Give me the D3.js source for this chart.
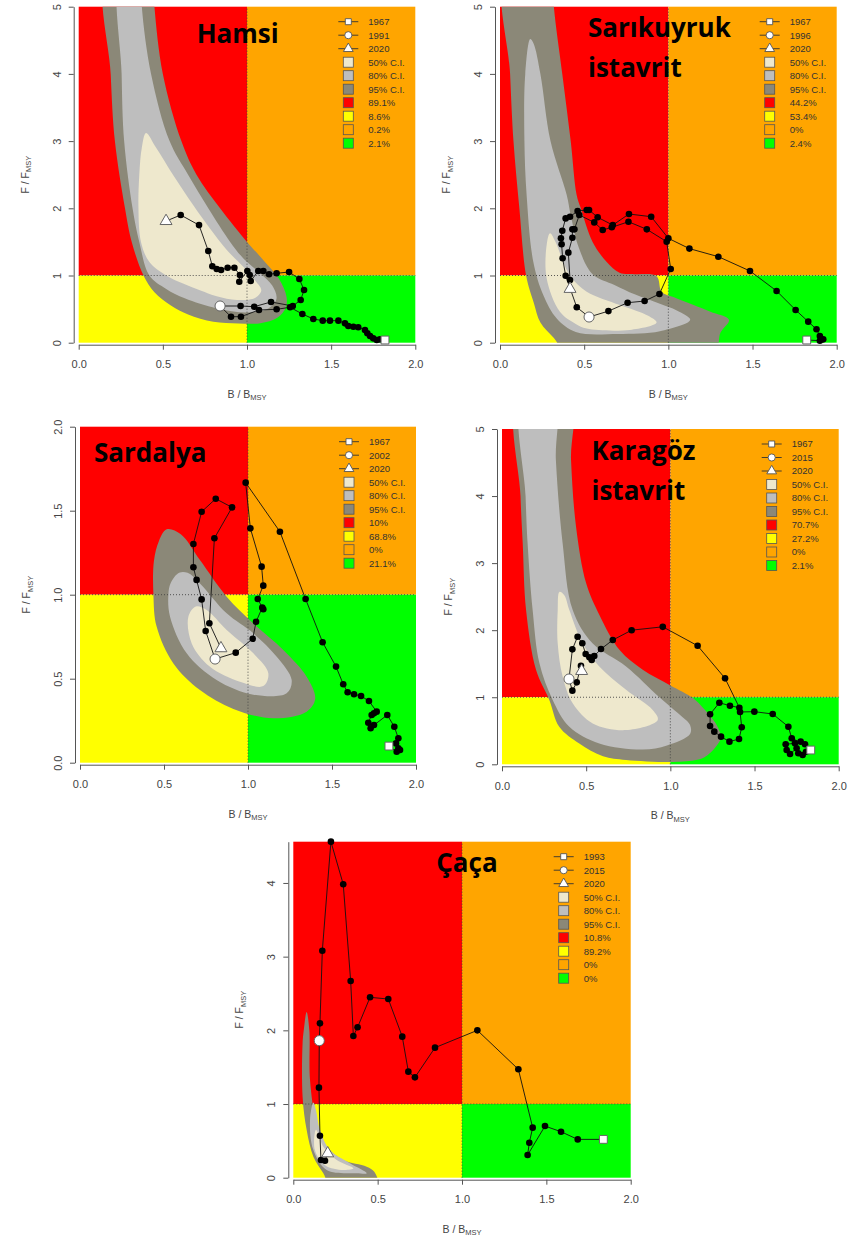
<!DOCTYPE html>
<meta charset="utf-8">
<style>
body { margin:0; background:#fff; }
svg { font-family: 'Liberation Sans', Arial, sans-serif; }
.title { font-family: 'Open Sans', sans-serif; font-weight:700; font-size:26px; fill:#000; }
.leg { font-size:9.5px; fill:#333; }
.axt { font-size:10.5px; fill:#444; }
</style>
<body>
<script src="https://d3js.org/d3.v7.min.js"></script>
<script>

// ---- shared legend / axis values ----
var ciLabels = ["50% C.I.", "80% C.I.", "95% C.I."];
var xTicks = [0, 0.5, 1, 1.5, 2];

// ---- Hamsi ----
var hamsiYears = ["1967", "1991", "2020"];
var hamsiPct = ["89.1%", "8.6%", "0.2%", "2.1%"];
var hamsiPathA = [[1.82,0.04],[1.79,0.05],[1.771,0.04],[1.75,0.065],[1.731,0.10],[1.715,0.14],[1.701,0.189],[1.661,0.229],[1.632,0.238],[1.602,0.248],[1.582,0.288],[1.543,0.328],[1.493,0.328],[1.45,0.328],[1.394,0.353],[1.329,0.427],[1.256,0.527],[1.176,0.497],[1.071,0.487],[0.964,0.387],[0.905,0.387],[0.84,0.546]];
var hamsiPathB = [[0.962,0.546],[1.043,0.536],[1.143,0.606],[1.272,0.546],[1.319,0.635],[1.339,0.784],[1.311,0.948],[1.25,1.052],[1.176,1.033],[1.131,1.018],[1.097,1.067],[1.067,1.067],[1.022,0.918],[1.016,1.007],[1.002,1.067],[0.954,0.908],[0.958,1.007],[0.925,1.116],[0.885,1.116],[0.846,1.082],[0.82,1.097],[0.794,1.137],[0.77,1.365],[0.715,1.75],[0.606,1.90],[0.519,1.81]];
var hamsiCI95 = [[0.17,5.5],[0.19,4.0],[0.215,3.0],[0.275,2.0],[0.315,1.5],[0.385,1.0],[0.45,0.75],[0.55,0.55],[0.65,0.42],[0.80,0.31],[0.95,0.285],[1.08,0.29],[1.18,0.37],[1.23,0.52],[1.235,0.68],[1.19,0.95],[1.10,1.22],[1.0,1.5],[0.84,2.0],[0.70,2.5],[0.61,3.0],[0.50,4.0],[0.45,5.0],[0.44,5.5]];
var hamsiCI80 = [[0.25,5.5],[0.255,4.0],[0.27,3.0],[0.32,2.0],[0.36,1.5],[0.42,1.0],[0.52,0.80],[0.63,0.66],[0.82,0.51],[1.0,0.45],[1.12,0.50],[1.175,0.65],[1.15,0.85],[1.08,1.03],[0.98,1.25],[0.90,1.5],[0.77,2.0],[0.65,2.5],[0.54,3.0],[0.43,4.0],[0.375,5.0],[0.37,5.5]];
var hamsiCI50 = [[0.40,3.12],[0.375,2.9],[0.36,2.5],[0.355,2.0],[0.37,1.5],[0.42,1.2],[0.52,1.0],[0.62,0.88],[0.72,0.78],[0.82,0.69],[0.94,0.635],[1.05,0.67],[1.085,0.78],[1.04,0.95],[0.99,1.10],[0.88,1.38],[0.78,1.7],[0.68,2.05],[0.56,2.5],[0.46,2.9]];

// ---- Sarikuyruk istavrit ----
var sarikYears = ["1967", "1996", "2020"];
var sarikPct = ["44.2%", "53.4%", "0%", "2.4%"];
var sarikPathA = [[1.822,0.04],[1.90,0.03],[1.92,0.05],[1.90,0.10],[1.88,0.20],[1.831,0.313],[1.756,0.487],[1.643,0.77],[1.485,1.067],[1.297,1.28],[1.125,1.40],[1.0,1.553],[0.898,1.875],[0.766,1.915],[0.67,1.75],[0.58,1.866],[0.529,1.975],[0.515,1.975],[0.461,1.96],[0.416,1.875],[0.39,1.85],[0.37,1.667],[0.362,1.553],[0.366,1.464],[0.372,1.256],[0.39,0.997],[0.456,0.527],[0.529,0.382]];
var sarikPathB = [[0.644,0.47],[0.758,0.595],[0.859,0.62],[0.947,0.725],[1.014,1.097],[0.99,1.503],[0.872,1.687],[0.763,1.80],[0.664,1.717],[0.61,1.677],[0.56,1.79],[0.471,1.90],[0.442,1.687],[0.43,1.687],[0.43,1.562],[0.406,1.34],[0.416,0.933],[0.416,0.80]];
var sarikCI95 = [[0.036,5.5],[0.06,4.0],[0.08,3.0],[0.115,2.0],[0.155,1.0],[0.20,0.6],[0.24,0.3],[0.32,0.07],[0.40,-0.15],[1.27,-0.15],[1.31,0.15],[1.36,0.34],[1.25,0.46],[1.15,0.56],[1.03,0.68],[0.96,0.76],[0.93,0.99],[0.80,1.02],[0.71,1.04],[0.634,1.2],[0.55,1.5],[0.48,2.0],[0.455,2.2],[0.42,3.0],[0.37,4.0],[0.32,5.0],[0.31,5.5]];
var sarikCI80 = [[0.18,4.52],[0.15,4.0],[0.145,3.0],[0.158,2.2],[0.198,1.2],[0.257,0.71],[0.337,0.36],[0.45,0.16],[0.7,0.13],[0.95,0.17],[1.13,0.34],[1.05,0.48],[0.95,0.58],[0.80,0.72],[0.68,0.86],[0.55,1.02],[0.47,1.4],[0.42,1.9],[0.396,2.2],[0.30,3.0],[0.24,4.0],[0.20,4.45]];
var sarikCI50 = [[0.297,1.63],[0.277,1.45],[0.277,0.96],[0.356,0.46],[0.45,0.28],[0.515,0.21],[0.772,0.19],[0.93,0.30],[0.88,0.40],[0.713,0.56],[0.515,0.76],[0.42,0.98],[0.376,1.2],[0.33,1.50]];

// ---- Sardalya ----
var sardYears = ["1967", "2002", "2020"];
var sardPct = ["10%", "68.8%", "0%", "21.1%"];
var sardPathA = [[1.839,0.099],[1.885,0.065],[1.905,0.076],[1.895,0.086],[1.881,0.115],[1.895,0.145],[1.871,0.214],[1.829,0.284],[1.75,0.224],[1.73,0.205],[1.716,0.238],[1.736,0.284],[1.75,0.294],[1.766,0.304],[1.72,0.367],[1.673,0.397],[1.631,0.407],[1.593,0.419],[1.567,0.467],[1.524,0.572],[1.444,0.717],[1.343,0.974],[1.19,1.375],[0.986,1.667],[1.014,1.395],[1.081,1.167],[1.091,1.054],[1.058,0.974],[1.091,0.913],[1.085,0.923],[1.048,0.839],[1.028,0.738],[0.927,0.655],[0.804,0.617]];
var sardPathB = [[0.748,0.784],[0.724,0.972],[0.694,1.088],[0.675,1.163],[0.675,1.302],[0.724,1.494],[0.808,1.571],[0.905,1.52],[0.80,1.336],[0.77,0.83],[0.839,0.681]];
var sardCI95 = [[0.516,1.389],[0.47,1.32],[0.44,1.2],[0.437,1.0],[0.456,0.81],[0.556,0.591],[0.714,0.433],[0.913,0.32],[1.15,0.264],[1.349,0.304],[1.40,0.38],[1.349,0.512],[1.21,0.671],[1.032,0.829],[0.873,0.988],[0.714,1.206],[0.60,1.36]];
var sardCI80 = [[0.59,1.13],[0.54,1.07],[0.526,1.0],[0.536,0.869],[0.635,0.651],[0.813,0.492],[1.032,0.405],[1.23,0.413],[1.26,0.492],[1.171,0.631],[1.032,0.77],[0.873,0.889],[0.714,1.067],[0.64,1.13]];
var sardCI50 = [[0.69,0.93],[0.645,0.869],[0.665,0.71],[0.774,0.571],[0.952,0.482],[1.091,0.456],[1.121,0.532],[1.032,0.651],[0.873,0.79],[0.754,0.909]];

// ---- Karagoz istavrit ----
var karaYears = ["1967", "2015", "2020"];
var karaPct = ["70.7%", "27.2%", "0%", "2.1%"];
var karaPathA = [[1.834,0.213],[1.806,0.188],[1.786,0.139],[1.76,0.164],[1.75,0.239],[1.711,0.154],[1.691,0.213],[1.685,0.298],[1.74,0.313],[1.774,0.338],[1.80,0.298],[1.721,0.388],[1.701,0.561],[1.608,0.75],[1.499,0.785],[1.414,0.78],[1.424,0.552],[1.408,0.377],[1.351,0.338],[1.301,0.412],[1.261,0.487],[1.236,0.571],[1.236,0.746],[1.291,0.918],[1.354,0.874],[1.41,0.844],[1.325,1.282],[1.162,1.768],[0.955,2.05],[0.77,2.0],[0.658,1.853],[0.588,1.719],[0.548,1.615],[0.533,1.555],[0.519,1.595],[0.497,1.645],[0.477,1.804],[0.449,1.903],[0.418,1.714],[0.398,1.272]];
var karaPathB = [[0.418,1.098],[0.444,1.222],[0.469,1.47],[0.473,1.391]];
var karaCI95 = [[0.099,5.5],[0.11,4.0],[0.123,3.3],[0.143,2.3],[0.202,1.41],[0.281,0.96],[0.34,0.56],[0.459,0.31],[0.60,0.12],[0.737,0.065],[1.077,0.04],[1.20,0.10],[1.27,0.26],[1.30,0.40],[1.275,0.586],[1.196,0.835],[1.136,0.984],[0.998,1.18],[0.836,1.41],[0.70,1.70],[0.58,2.22],[0.50,2.7],[0.44,3.54],[0.41,4.54],[0.404,5.5]];
var karaCI80 = [[0.123,5.5],[0.14,4.0],[0.152,3.3],[0.182,2.3],[0.222,1.51],[0.301,0.96],[0.40,0.56],[0.578,0.31],[0.836,0.22],[0.98,0.28],[1.117,0.45],[1.117,0.586],[1.073,0.70],[0.935,1.0],[0.737,1.46],[0.539,1.80],[0.42,2.30],[0.36,3.3],[0.32,4.54],[0.311,5.5]];
var karaCI50 = [[0.341,2.57],[0.331,2.30],[0.331,1.80],[0.36,1.31],[0.42,0.91],[0.539,0.61],[0.737,0.51],[0.925,0.66],[0.895,0.81],[0.737,1.11],[0.578,1.46],[0.479,1.80],[0.40,2.30],[0.37,2.52]];

// ---- Caca ----
var cacaYears = ["1993", "2015", "2020"];
var cacaPct = ["10.8%", "89.2%", "0%", "0%"];
var cacaPathA = [[1.838,0.52],[1.686,0.52],[1.587,0.624],[1.492,0.701],[1.389,0.308],[1.399,0.475],[1.419,0.679],[1.334,1.471],[1.091,2.0],[0.84,1.765],[0.721,1.362],[0.682,1.439],[0.646,1.914],[0.563,2.425],[0.455,2.448],[0.381,2.041],[0.356,1.923],[0.34,2.67],[0.296,3.982],[0.223,4.561],[0.172,3.081],[0.158,2.095],[0.154,1.86]];
var cacaPathB = [[0.152,1.222],[0.158,0.57],[0.164,0.24],[0.188,0.231],[0.204,0.33]];
var cacaCI95 = [[0.079,2.25],[0.062,2.0],[0.055,1.82],[0.055,1.10],[0.079,0.65],[0.119,0.285],[0.178,0.06],[0.22,-0.1],[0.50,-0.1],[0.48,0.08],[0.435,0.15],[0.296,0.24],[0.198,0.42],[0.138,0.74],[0.099,1.33],[0.095,2.0]];
var cacaCI80 = [[0.119,1.02],[0.099,0.78],[0.119,0.375],[0.198,0.104],[0.375,0.06],[0.435,0.06],[0.336,0.195],[0.217,0.375],[0.158,0.65],[0.134,0.92]];
var cacaCI50 = [[0.134,0.65],[0.128,0.375],[0.188,0.17],[0.296,0.104],[0.356,0.127],[0.257,0.24],[0.178,0.42],[0.148,0.60]];

// ---- colours ----
var kobeCols = ["#ff0000", "#ffff00", "#ffa500", "#00ff00"];   // red, yellow, orange, green
var ciCols = ["#eee8cd", "#bebebe", "#8b8878"];

// ---- layout (pixels) ----
var panels = [
  {name:["Hamsi"], tx:118, ty:36, left:78.7, top:6.7, w:336.6, h:336, ymax:5, yticks:[0,1,2,3,4,5], yfmt:"d",
   years:hamsiYears, pct:hamsiPct, a:hamsiPathA, b:hamsiPathB, ci:[hamsiCI95, hamsiCI80, hamsiCI50]},
  {name:["Sarıkuyruk","istavrit"], tx:88, ty:30, left:500, top:6.7, w:336.7, h:336, ymax:5, yticks:[0,1,2,3,4,5], yfmt:"d",
   years:sarikYears, pct:sarikPct, a:sarikPathA, b:sarikPathB, ci:[sarikCI95, sarikCI80, sarikCI50]},
  {name:["Sardalya"], tx:14, ty:35, left:80, top:426.7, w:336, h:336, ymax:2, yticks:[0,0.5,1,1.5,2], yfmt:".1f",
   years:sardYears, pct:sardPct, a:sardPathA, b:sardPathB, ci:[sardCI95, sardCI80, sardCI50]},
  {name:["Karagöz","istavrit"], tx:89.5, ty:30.5, left:502, top:429, w:336.7, h:335.3, ymax:5, yticks:[0,1,2,3,4,5], yfmt:"d",
   years:karaYears, pct:karaPct, a:karaPathA, b:karaPathB, ci:[karaCI95, karaCI80, karaCI50]},
  {name:["Çaça"], tx:143, ty:30, left:293.3, top:841.7, w:337.4, h:336, ymax:4.56, yticks:[0,1,2,3,4], yfmt:"d",
   years:cacaYears, pct:cacaPct, a:cacaPathA, b:cacaPathB, ci:[cacaCI95, cacaCI80, cacaCI50]}
];

var svg = d3.select("body").append("svg")
    .attr("width", 856)
    .attr("height", 1241);

var defs = svg.append("defs");

panels.forEach(drawPanel);

function drawPanel(p, idx) {
  var x = d3.scaleLinear().domain([0, 2]).range([p.left, p.left + p.w]),
      y = d3.scaleLinear().domain([0, p.ymax]).range([p.top + p.h, p.top]);

  defs.append("clipPath").attr("id", "clip" + idx)
    .append("rect")
      .attr("x", p.left).attr("y", p.top)
      .attr("width", p.w).attr("height", p.h);

  var g = svg.append("g");

  // kobe quadrants: red, yellow, orange, green
  var quads = [[0,1,1,p.ymax],[0,0,1,1],[1,1,2,p.ymax],[1,0,2,1]];
  g.selectAll("rect.quad").data(quads).join("rect")
      .attr("class", "quad")
      .attr("x", function(d) { return x(d[0]); })
      .attr("y", function(d) { return y(d[3]); })
      .attr("width", function(d) { return x(d[2]) - x(d[0]); })
      .attr("height", function(d) { return y(d[1]) - y(d[3]); })
      .attr("fill", function(d, i) { return kobeCols[i]; });

  // confidence regions, outermost first
  var shape = d3.line()
      .x(function(d) { return x(d[0]); })
      .y(function(d) { return y(d[1]); })
      .curve(d3.curveCatmullRomClosed.alpha(0.5));
  var cig = g.append("g").attr("clip-path", "url(#clip" + idx + ")");
  p.ci.forEach(function(poly, i) {
    cig.append("path").attr("d", shape(poly)).attr("fill", ciCols[2 - i]);
  });

  // reference lines at 1
  g.append("line")
      .attr("x1", x(1)).attr("x2", x(1)).attr("y1", y(0)).attr("y2", y(p.ymax))
      .attr("stroke", "#444").attr("stroke-width", 0.9).attr("stroke-dasharray", "1,2");
  g.append("line")
      .attr("x1", x(0)).attr("x2", x(2)).attr("y1", y(1)).attr("y2", y(1))
      .attr("stroke", "#444").attr("stroke-width", 0.9).attr("stroke-dasharray", "1,2");

  // trajectory
  var traj = p.a.concat(p.b);
  var mid = p.a[p.a.length - 1];
  g.append("path").datum(traj)
      .attr("d", d3.line().x(function(d) { return x(d[0]); }).y(function(d) { return y(d[1]); }))
      .attr("fill", "none").attr("stroke", "#111").attr("stroke-width", 0.9);
  g.selectAll("circle.pt").data(traj).join("circle")
      .attr("class", "pt")
      .attr("cx", function(d) { return x(d[0]); })
      .attr("cy", function(d) { return y(d[1]); })
      .attr("r", 3.3)
      .attr("fill", "#000");

  var marks = [[traj[0], d3.symbolSquare, 62], [mid, d3.symbolCircle, 80], [traj[traj.length - 1], d3.symbolTriangle, 62]];
  marks.forEach(function(m) {
    g.append("path")
        .attr("d", d3.symbol().type(m[1]).size(m[2]))
        .attr("transform", "translate(" + x(m[0][0]) + "," + y(m[0][1]) + ")")
        .attr("fill", "#fff").attr("stroke", "#666").attr("stroke-width", 1);
  });

  // axes
  var xAxis = d3.axisBottom(x).tickValues(xTicks).tickFormat(d3.format(".1f"))
      .tickSize(5).tickSizeOuter(0).tickPadding(11);
  var xa = g.append("g").attr("transform", "translate(0," + (p.top + p.h + 2) + ")").call(xAxis);

  var yAxis = d3.axisLeft(y).tickValues(p.yticks).tickFormat(d3.format(p.yfmt))
      .tickSize(5).tickSizeOuter(0);
  var ya = g.append("g").attr("transform", "translate(" + (p.left - 5) + ",0)").call(yAxis);
  ya.selectAll("text")
      .attr("transform", "rotate(-90)")
      .attr("x", 0).attr("y", -13).attr("dy", null)
      .style("text-anchor", "middle");

  [xa, ya].forEach(function(a) {
    a.attr("font-family", null).attr("font-size", 11);
    a.select(".domain").attr("stroke", "#555");
    a.selectAll(".tick line").attr("stroke", "#555");
    a.selectAll(".tick text").attr("fill", "#444");
  });

  // axis titles
  var xt = g.append("text").attr("class", "axt")
      .attr("x", p.left + p.w / 2).attr("y", p.top + p.h + 55)
      .attr("text-anchor", "middle");
  xt.append("tspan").text("B / B");
  xt.append("tspan").attr("font-size", 7.5).attr("dy", 2.5).text("MSY");

  var yx = p.left - 50, yy = p.top + p.h / 2;
  var yt = g.append("text").attr("class", "axt")
      .attr("transform", "translate(" + yx + "," + yy + ") rotate(-90)")
      .attr("text-anchor", "middle");
  yt.append("tspan").text("F / F");
  yt.append("tspan").attr("font-size", 7.5).attr("dy", 2.5).text("MSY");

  // legend
  var lx = p.left + p.w - 67, ltx = p.left + p.w - 47, ly0 = p.top + 15, step = 13.5;
  var syms = [d3.symbolSquare, d3.symbolCircle, d3.symbolTriangle];
  var symSize = [36, 40, 42];
  p.years.forEach(function(t, i) {
    var yy2 = ly0 + i * step;
    g.append("line").attr("x1", lx - 10).attr("x2", lx + 10).attr("y1", yy2).attr("y2", yy2)
        .attr("stroke", "#333").attr("stroke-width", 0.9);
    g.append("path").attr("d", d3.symbol().type(syms[i]).size(symSize[i]))
        .attr("transform", "translate(" + lx + "," + yy2 + ")")
        .attr("fill", "#fff").attr("stroke", "#555").attr("stroke-width", 0.9);
    g.append("text").attr("class", "leg").attr("x", ltx).attr("y", yy2).attr("dy", "0.35em").text(t);
  });
  var boxes = ciLabels.map(function(t, i) { return [t, ciCols[i]]; })
      .concat(p.pct.map(function(t, i) { return [t, kobeCols[i]]; }));
  boxes.forEach(function(b, i) {
    var yy2 = ly0 + (i + 3) * step;
    g.append("rect").attr("x", lx - 5).attr("y", yy2 - 5).attr("width", 10).attr("height", 10)
        .attr("fill", b[1]).attr("stroke", "#555").attr("stroke-width", 0.8);
    g.append("text").attr("class", "leg").attr("x", ltx).attr("y", yy2).attr("dy", "0.35em").text(b[0]);
  });

  // species name
  p.name.forEach(function(t, i) {
    g.append("text").attr("class", "title")
        .attr("x", p.left + p.tx).attr("y", p.top + p.ty + i * 40)
        .text(t);
  });
}

</script>
</body>
